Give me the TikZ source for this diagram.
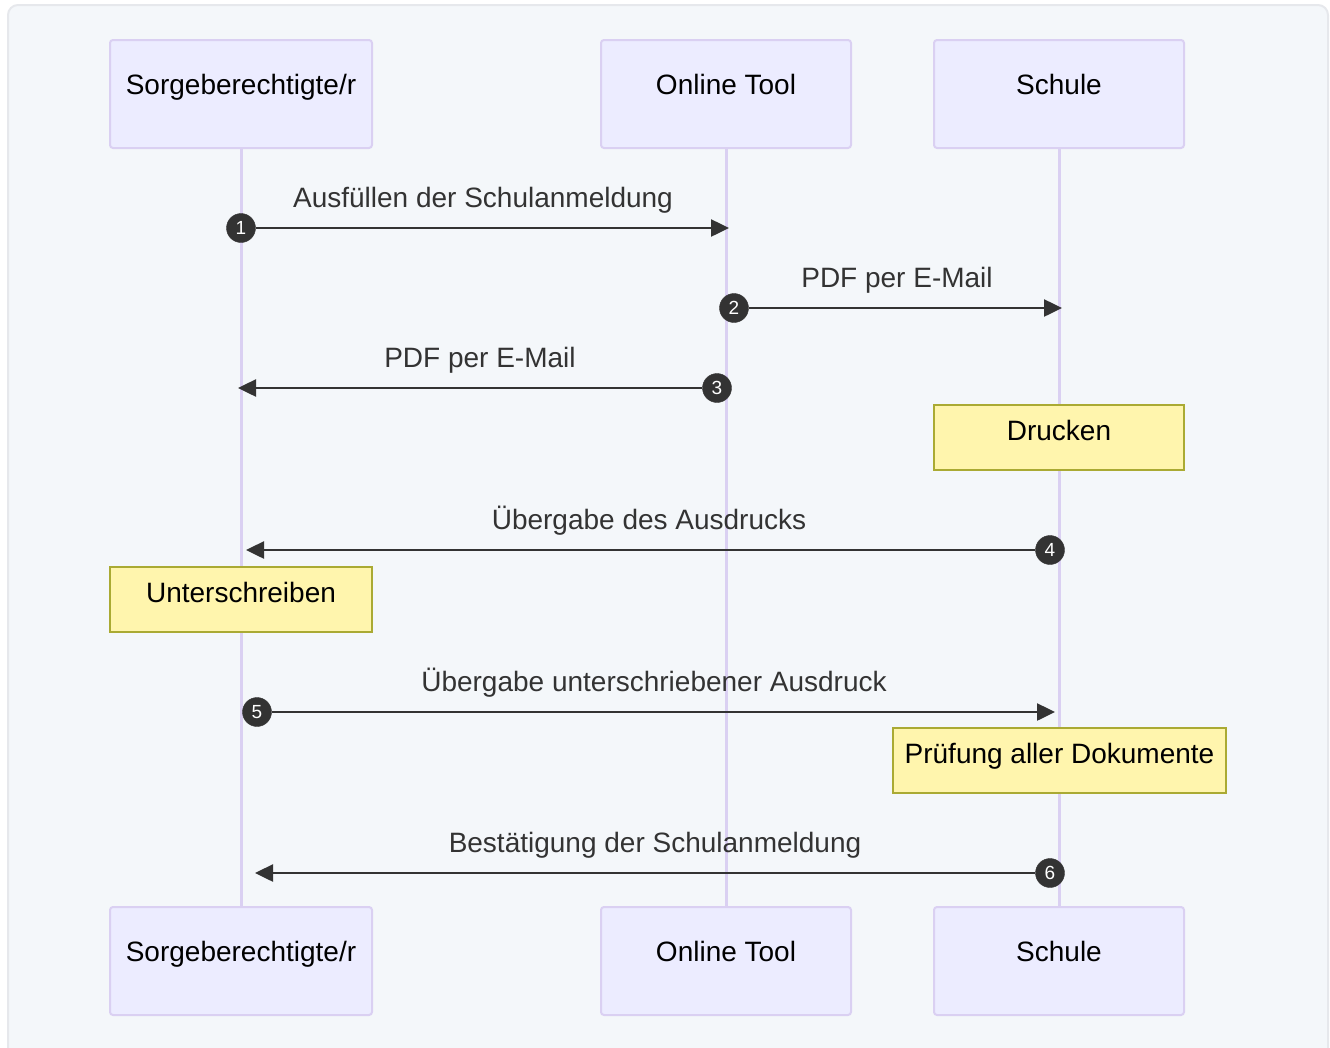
\documentclass[tikz,border=0pt]{standalone}
\usepackage{fontspec}
\setmainfont{Liberation Sans}
\usetikzlibrary{arrows.meta}
\definecolor{bgfill}{HTML}{F4F7FA}
\definecolor{bgline}{HTML}{E6E8EC}
\definecolor{actfill}{HTML}{ECECFF}
\definecolor{actline}{HTML}{DAD0F2}
\definecolor{notefill}{HTML}{FFF5AD}
\definecolor{noteline}{HTML}{AAAA33}
\definecolor{msg}{HTML}{333333}
\tikzset{
  actor/.style={draw=actline, line width=2pt, fill=actfill, rounded corners=3pt,
    minimum height=108pt, inner sep=0pt, text height=18pt, text depth=18pt,
    font=\fontsize{28}{32}\selectfont, text=black},
  notebox/.style={draw=noteline, line width=1.5pt, fill=notefill,
    minimum height=65pt, inner sep=0pt, text height=20pt, text depth=14pt,
    font=\fontsize{28}{32}\selectfont, text=black},
  lifeline/.style={draw=actline, line width=3pt},
  msgline/.style={draw=msg, line width=2.5pt, -{Triangle[length=18pt,width=17pt]}},
  msglabel/.style={anchor=base, inner sep=0pt, text=msg, font=\fontsize{28}{32}\selectfont},
  seqnum/.style={circle, fill=msg, draw=msg, minimum size=29pt, inner sep=0pt,
    text=white, font=\fontsize{19}{20}\selectfont},
}
\begin{document}
\begin{tikzpicture}[x=1pt,y=-1pt]
\useasboundingbox (0,0) rectangle (1330,1047);
\draw[bgline, fill=bgfill, line width=2pt, rounded corners=10pt] (8,5) rectangle (1328,1065);
% actors
\node[actor, minimum width=262pt] (s1) at (241,94) {Sorgeberechtigte/r};
\node[actor, minimum width=250pt] (o1) at (726,94) {Online Tool};
\node[actor, minimum width=250pt] (k1) at (1059,94) {Schule};
\node[actor, minimum width=262pt] (s2) at (241,961) {Sorgeberechtigte/r};
\node[actor, minimum width=250pt] (o2) at (726,961) {Online Tool};
\node[actor, minimum width=250pt] (k2) at (1059,961) {Schule};
% lifelines
\draw[lifeline] (s1.south) -- (s2.north);
\draw[lifeline] (o1.south) -- (o2.north);
\draw[lifeline] (k1.south) -- (k2.north);
% notes
\node[notebox, minimum width=250pt] (n1) at (1059,437.5) {Drucken};
\node[notebox, minimum width=262pt] (n2) at (241,599.5) {Unterschreiben};
\node[notebox, minimum width=333pt] (n3) at (1059.5,760.5) {Prüfung aller Dokumente};
% sequence numbers
\node[seqnum] (c1) at (241,228) {1};
\node[seqnum] (c2) at (734,308) {2};
\node[seqnum] (c3) at (717,388) {3};
\node[seqnum] (c4) at (1050,550) {4};
\node[seqnum] (c5) at (257,712) {5};
\node[seqnum] (c6) at (1050,873) {6};
% arrow tips
\coordinate (t1) at (729,228);
\coordinate (t2) at (1062,308);
\coordinate (t3) at (238,388);
\coordinate (t4) at (246,550);
\coordinate (t5) at (1055,712);
\coordinate (t6) at (255,873);
% messages
\draw[msgline] (c1) -- (t1);
\draw[msgline] (c2) -- (t2);
\draw[msgline] (c3) -- (t3);
\draw[msgline] (c4) -- (t4);
\draw[msgline] (c5) -- (t5);
\draw[msgline] (c6) -- (t6);
% labels
\node[msglabel] (l1) at (483,207) {Ausfüllen der Schulanmeldung};
\node[msglabel] (l2) at (897,287) {PDF per E-Mail};
\node[msglabel] (l3) at (480,367) {PDF per E-Mail};
\node[msglabel] (l4) at (649,529) {Übergabe des Ausdrucks};
\node[msglabel] (l5) at (654,691) {Übergabe unterschriebener Ausdruck};
\node[msglabel] (l6) at (655,852) {Bestätigung der Schulanmeldung};
\end{tikzpicture}
\end{document}
